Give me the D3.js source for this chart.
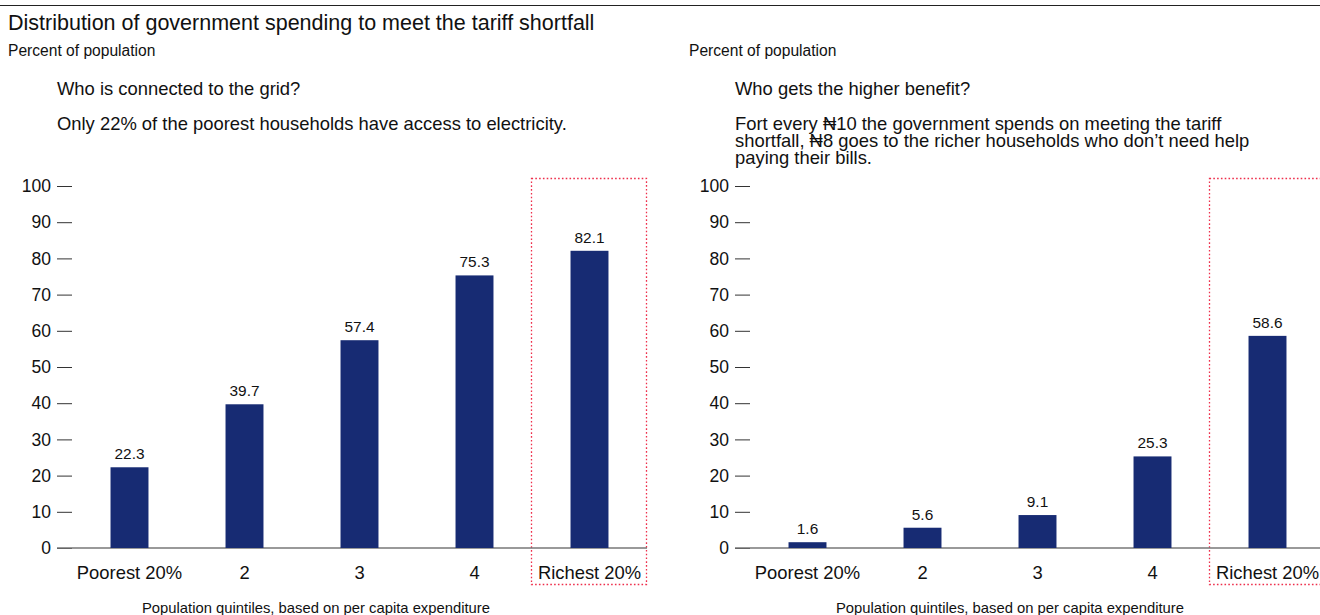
<!DOCTYPE html>
<html>
<head>
<meta charset="utf-8">
<script src="https://cdn.jsdelivr.net/npm/d3@7"></script>
<style>
  html, body { margin: 0; padding: 0; background: #fff; }
  svg { display: block; font-family: "Liberation Sans", Arial, sans-serif; }
</style>
</head>
<body>
<svg id="chart" width="1320" height="615"></svg>
<script>
// Quintile categories shared by both panels
const quintiles = ["Poorest 20%", "2", "3", "4", "Richest 20%"];
// Share of households connected to the grid, by quintile
const connectedValues = [22.3, 39.7, 57.4, 75.3, 82.1];
// Share of the tariff-shortfall spending received, by quintile
const benefitValues = [1.6, 5.6, 9.1, 25.3, 58.6];
// Y-axis tick values
const yTicks = [0, 10, 20, 30, 40, 50, 60, 70, 80, 90, 100];

const BAR = "#172b73";
const HIGHLIGHT = "#ee2f4c";
const svg = d3.select("#chart");

// Top rule and chart title
svg.append("line").attr("x1", 0).attr("x2", 1320).attr("y1", 5.5).attr("y2", 5.5)
  .attr("stroke", "#222").attr("stroke-width", 1);
svg.append("text").attr("x", 8).attr("y", 30).attr("font-size", 21.5).attr("fill", "#111")
  .text("Distribution of government spending to meet the tariff shortfall");

const y = d3.scaleLinear().domain([0, 100]).range([548, 186]);

function panel(opts) {
  const g = svg.append("g");
  const x = d3.scaleBand().domain(quintiles).range([opts.x0, opts.x0 + 575])
    .paddingInner(0.67).paddingOuter(0.335);

  g.append("text").attr("x", opts.unitX).attr("y", 56).attr("font-size", 15.6).attr("fill", "#111")
    .text("Percent of population");

  opts.notes.forEach(ln => {
    g.append("text").attr("x", opts.noteX).attr("y", ln.y).attr("font-size", 18.4).attr("fill", "#111")
      .text(ln.t);
  });

  // Highlight box around the richest quintile
  const bx = x.step() * 4 + opts.x0 - 0.5;
  g.append("rect").attr("x", bx).attr("y", 178.5).attr("width", x.step()).attr("height", 406)
    .attr("fill", "none").attr("stroke", HIGHLIGHT).attr("stroke-width", 1.3)
    .attr("stroke-dasharray", "1.6,2.2");

  // Y axis
  const ya = g.append("g").attr("transform", `translate(${opts.x0},0)`)
    .call(d3.axisLeft(y).tickValues(yTicks).tickSize(15).tickPadding(6));
  ya.select(".domain").remove();
  ya.selectAll(".tick line").attr("stroke", "#333");
  ya.selectAll(".tick text").attr("font-size", 17.5).attr("fill", "#111")
    .attr("font-family", "Liberation Sans, Arial, sans-serif");

  // Baseline
  g.append("line").attr("x1", opts.x0 - 15).attr("x2", opts.x0 + 575).attr("y1", y(0)).attr("y2", y(0))
    .attr("stroke", "#777").attr("stroke-width", 1.5);

  // Bars
  g.selectAll("rect.bar").data(opts.values).join("rect").attr("class", "bar")
    .attr("x", (d, i) => x(quintiles[i])).attr("width", x.bandwidth())
    .attr("y", d => y(d)).attr("height", d => y(0) - y(d)).attr("fill", BAR);

  // Value labels
  g.selectAll("text.val").data(opts.values).join("text").attr("class", "val")
    .attr("x", (d, i) => x(quintiles[i]) + x.bandwidth() / 2).attr("y", d => y(d) - 8)
    .attr("text-anchor", "middle").attr("font-size", 15.4).attr("fill", "#111")
    .text(d => d.toFixed(1));

  // Category labels
  g.selectAll("text.cat").data(quintiles).join("text").attr("class", "cat")
    .attr("x", d => x(d) + x.bandwidth() / 2).attr("y", 578.5)
    .attr("text-anchor", "middle").attr("font-size", 18.4).attr("fill", "#111")
    .text(d => d);

  // X-axis title
  g.append("text").attr("x", opts.titleX).attr("y", 612.5).attr("text-anchor", "middle")
    .attr("font-size", 14.8).attr("fill", "#111")
    .text("Population quintiles, based on per capita expenditure");
}

panel({
  x0: 72, unitX: 8, noteX: 57, titleX: 316, values: connectedValues,
  notes: [
    { t: "Who is connected to the grid?", y: 94.5 },
    { t: "Only 22% of the poorest households have access to electricity.", y: 129.5 }
  ]
});

panel({
  x0: 750, unitX: 689, noteX: 735, titleX: 1010, values: benefitValues,
  notes: [
    { t: "Who gets the higher benefit?", y: 94.5 },
    { t: "Fort every \u20A610 the government spends on meeting the tariff", y: 129.5 },
    { t: "shortfall, \u20A68 goes to the richer households who don\u2019t need help", y: 146.5 },
    { t: "paying their bills.", y: 163.5 }
  ]
});
</script>
</body>
</html>
